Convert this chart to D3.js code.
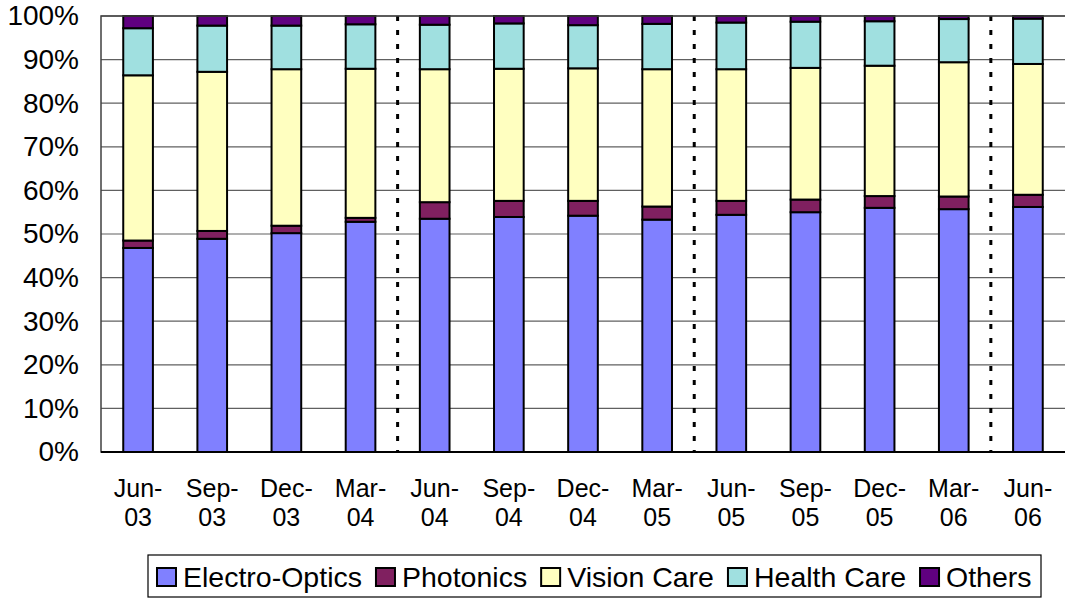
<!DOCTYPE html>
<html>
<head>
<meta charset="utf-8">
<script src="https://cdn.jsdelivr.net/npm/d3@7"></script>
<style>
  html, body { margin: 0; padding: 0; background: #fff; }
  svg { display: block; font-family: Arial, "Liberation Sans", sans-serif; }
</style>
</head>
<body>
<svg id="chart"></svg>
<script>
const quarters = ['Jun-03', 'Sep-03', 'Dec-03', 'Mar-04', 'Jun-04', 'Sep-04', 'Dec-04',
                  'Mar-05', 'Jun-05', 'Sep-05', 'Dec-05', 'Mar-06', 'Jun-06'];
const seriesNames = ['Electro-Optics', 'Photonics', 'Vision Care', 'Health Care', 'Others'];
const electroOptics = [46.8, 48.9, 50.2, 52.8, 53.5, 53.9, 54.2, 53.3, 54.4, 55.0, 56.0, 55.7, 56.2];
const photonics     = [1.7, 1.8, 1.7, 0.9, 3.8, 3.7, 3.4, 3.0, 3.2, 2.9, 2.7, 2.9, 2.8];
const visionCare    = [37.9, 36.5, 35.9, 34.2, 30.5, 30.3, 30.4, 31.5, 30.2, 30.2, 29.9, 30.8, 30.0];
const healthCare    = [10.8, 10.6, 10.0, 10.2, 10.2, 10.4, 9.9, 10.4, 10.7, 10.6, 10.2, 9.9, 10.4];
const others        = [2.8, 2.2, 2.2, 1.9, 2.0, 1.7, 2.1, 1.8, 1.5, 1.3, 1.2, 0.7, 0.6];
// year separators drawn before these quarters
const yearBreaks = ['Jun-04', 'Jun-05', 'Jun-06'];
const yTicks = [0, 10, 20, 30, 40, 50, 60, 70, 80, 90, 100];

const WIDTH = 1067, HEIGHT = 598;
const plot = {left: 101, right: 1065, top: 16, bottom: 452};
const colors = ['#8080ff', '#802060', '#ffffc0', '#a0e0e0', '#600080'];

const svg = d3.select('#chart')
    .attr('width', WIDTH)
    .attr('height', HEIGHT);

const table = quarters.map((q, i) => ({
  quarter: q,
  'Electro-Optics': electroOptics[i],
  'Photonics': photonics[i],
  'Vision Care': visionCare[i],
  'Health Care': healthCare[i],
  'Others': others[i]
}));
const stacked = d3.stack().keys(seriesNames)(table);

const x = d3.scaleBand()
    .domain(quarters)
    .range([plot.left, plot.right])
    .paddingInner(0.6)
    .paddingOuter(0.3);

const y = d3.scaleLinear()
    .domain([0, 100])
    .range([plot.bottom, plot.top]);

// gridlines
svg.append('g')
    .selectAll('line')
    .data(yTicks.slice(1))
    .join('line')
    .attr('x1', plot.left)
    .attr('x2', plot.right)
    .attr('y1', d => y(d))
    .attr('y2', d => y(d))
    .attr('stroke', '#606060')
    .attr('stroke-width', 1.2);

// y labels
const yAxis = svg.append('g')
    .attr('transform', `translate(${plot.left},0)`)
    .call(d3.axisLeft(y).tickValues(yTicks).tickSize(0).tickPadding(22).tickFormat(d => d + '%'));
yAxis.select('.domain').remove();
yAxis.selectAll('text')
    .attr('font-size', 28)
    .attr('fill', '#000')
    .attr('font-family', 'Arial, "Liberation Sans", sans-serif');

// year separators
svg.append('g')
    .selectAll('line')
    .data(yearBreaks)
    .join('line')
    .attr('x1', d => x(d) - x.step() * x.paddingInner() / 2)
    .attr('x2', d => x(d) - x.step() * x.paddingInner() / 2)
    .attr('y1', plot.top)
    .attr('y2', plot.bottom)
    .attr('stroke', '#000')
    .attr('stroke-width', 3)
    .attr('stroke-dasharray', '5 9');

// bars
svg.append('g')
    .selectAll('g')
    .data(stacked)
    .join('g')
    .attr('fill', (d, i) => colors[i])
    .selectAll('rect')
    .data(d => d)
    .join('rect')
    .attr('x', d => x(d.data.quarter))
    .attr('y', d => y(d[1]))
    .attr('width', x.bandwidth())
    .attr('height', d => y(d[0]) - y(d[1]))
    .attr('stroke', '#000')
    .attr('stroke-width', 2);

// plot frame (left, top, bottom)
svg.append('path')
    .attr('d', `M${plot.right},${plot.top}H${plot.left}V${plot.bottom}H${plot.right}`)
    .attr('fill', 'none')
    .attr('stroke', '#404040')
    .attr('stroke-width', 1.5);
svg.append('line')
    .attr('x1', plot.left).attr('x2', plot.right)
    .attr('y1', plot.bottom).attr('y2', plot.bottom)
    .attr('stroke', '#000').attr('stroke-width', 2);

// x labels (two lines)
const xl = svg.append('g')
    .selectAll('text')
    .data(quarters)
    .join('text')
    .attr('x', d => x(d) + x.bandwidth() / 2)
    .attr('y', 497)
    .attr('text-anchor', 'middle')
    .attr('font-size', 25)
    .attr('fill', '#000');
xl.append('tspan').text(d => d.split('-')[0] + '-');
xl.append('tspan')
    .attr('x', d => x(d) + x.bandwidth() / 2)
    .attr('dy', 29)
    .text(d => d.split('-')[1]);

// legend
const legend = svg.append('g');
legend.append('rect')
    .attr('x', 148).attr('y', 555)
    .attr('width', 893).attr('height', 42)
    .attr('fill', '#fff')
    .attr('stroke', '#000')
    .attr('stroke-width', 1.2);
let lx = 157;
seriesNames.forEach((name, i) => {
  legend.append('rect')
      .attr('x', lx).attr('y', 568)
      .attr('width', 19).attr('height', 18)
      .attr('fill', colors[i])
      .attr('stroke', '#000')
      .attr('stroke-width', 2);
  const t = legend.append('text')
      .attr('x', lx + 26).attr('y', 587)
      .attr('font-size', 28.5)
      .attr('fill', '#000')
      .text(name);
  lx += 26 + t.node().getComputedTextLength() + 14;
});
</script>
</body>
</html>
